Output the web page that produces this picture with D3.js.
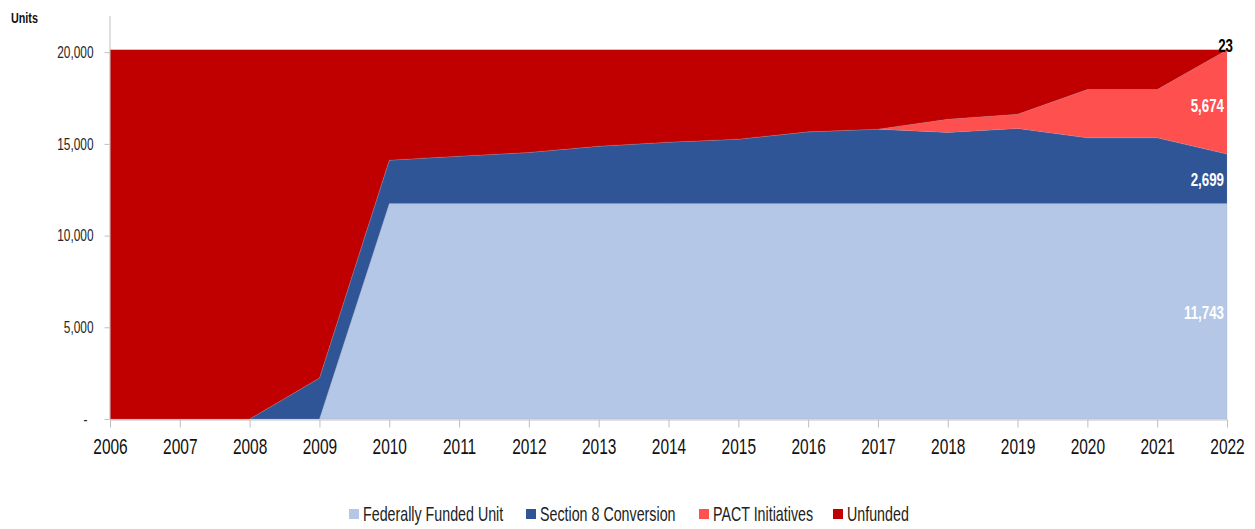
<!DOCTYPE html>
<html>
<head>
<meta charset="utf-8">
<script src="https://cdn.jsdelivr.net/npm/d3@7"></script>
<style>
  html, body { margin: 0; padding: 0; background: #fff; }
  svg text { font-family: "Liberation Sans", Arial, sans-serif; }
</style>
</head>
<body>
<svg id="chart" width="1255" height="529"></svg>
<script>
// ---- data ----
const years = [2006, 2007, 2008, 2009, 2010, 2011, 2012, 2013, 2014, 2015, 2016, 2017, 2018, 2019, 2020, 2021, 2022];
const federallyFunded = [0, 0, 0, 0, 11743, 11743, 11743, 11743, 11743, 11743, 11743, 11743, 11743, 11743, 11743, 11743, 11743];
const section8 = [0, 0, 0, 2234, 2371, 2589, 2791, 3134, 3352, 3516, 3914, 4061, 3881, 4099, 3587, 3587, 2699];
const pact = [0, 0, 0, 0, 0, 0, 0, 0, 0, 0, 0, 0, 725, 779, 2637, 2637, 5674];
const unfunded = [20139, 20139, 20139, 17905, 6025, 5807, 5605, 5262, 5044, 4880, 4482, 4335, 3790, 3518, 2172, 2172, 23];
const seriesNames = ["Federally Funded Unit", "Section 8 Conversion", "PACT Initiatives", "Unfunded"];
const yTicks = [0, 5000, 10000, 15000, 20000];

// ---- styles ----
const colors = ["#B4C7E7", "#2F5597", "#FF5050", "#C00000"];
const keys = ["ffu", "s8", "pact", "unf"];
const SX = 0.72; // horizontal squeeze to mimic the tall, narrow lettering

const rows = years.map((yr, i) => ({
  year: yr, ffu: federallyFunded[i], s8: section8[i], pact: pact[i], unf: unfunded[i]
}));

const svg = d3.select("#chart");
const x = d3.scaleLinear().domain([2006, 2022]).range([110, 1227]);
const y = d3.scaleLinear().domain([0, 22000]).range([419, 15.5]);

const stacked = d3.stack().keys(keys)(rows);
const area = d3.area()
  .x(d => x(d.data.year))
  .y0(d => y(d[0]))
  .y1(d => y(d[1]));

svg.append("g").selectAll("path")
  .data(stacked)
  .join("path")
  .attr("d", area)
  .attr("fill", (d, i) => colors[i])
  .attr("stroke", "#9a9aa8")
  .attr("stroke-opacity", 0.35)
  .attr("stroke-width", 0.6);

function label(px, py, txt, size, opts = {}) {
  return svg.append("text")
    .attr("transform", `translate(${px},${py}) scale(${SX},1)`)
    .attr("dy", "0.35em")
    .attr("text-anchor", opts.anchor || "start")
    .attr("font-size", size)
    .attr("font-weight", opts.weight || "normal")
    .attr("fill", opts.fill || "#222")
    .text(txt);
}

// y axis
const yAxis = svg.append("g")
  .attr("transform", "translate(109.5,0)")
  .call(d3.axisLeft(y).tickValues(yTicks).tickSize(5).tickSizeOuter(0).tickPadding(11)
    .tickFormat(d => d === 0 ? "-" : d3.format(",")(d)));
yAxis.select(".domain").attr("stroke", "#BFBFBF");
yAxis.selectAll(".tick line").attr("stroke", "#BFBFBF");
yAxis.selectAll(".tick text")
  .attr("font-size", 16.5).attr("fill", "#262626")
  .attr("x", d => (d === 0 ? -22 : -16) / SX)
  .attr("transform", `scale(${SX},1)`);

// x axis
const xAxis = svg.append("g")
  .attr("transform", "translate(0,419.5)")
  .call(d3.axisBottom(x).tickValues(years).tickSize(8).tickSizeOuter(0).tickPadding(11)
    .tickFormat(d3.format("d")));
xAxis.select(".domain").attr("stroke", "#BFBFBF");
xAxis.selectAll(".tick line").attr("stroke", "#BFBFBF");
xAxis.selectAll(".tick text")
  .attr("font-size", 21.5).attr("fill", "#111")
  .attr("transform", `scale(${SX},1)`);

// Units label
label(11, 18, "Units", 15, { weight: "bold", fill: "#111" });

// data labels at 2022
const last = stacked.map(s => s[s.length - 1]);
const lastVals = [federallyFunded, section8, pact, unfunded].map(a => a[a.length - 1]);
const labelColors = ["#fff", "#fff", "#fff", "#000"];
last.forEach((d, i) => {
  const mid = (d[0] + d[1]) / 2;
  const px = i === 3 ? x(2022) + 6 : x(2022) - 3;
  const py = i === 3 ? y(mid) - 4 : (i === 2 ? y(mid) + 3 : y(mid) + 1);
  label(px, py, d3.format(",")(lastVals[i]), 18.5, { anchor: "end", weight: "bold", fill: labelColors[i] });
});

// legend
const legendX = [349, 526, 699, 833];
seriesNames.forEach((name, i) => {
  svg.append("rect").attr("x", legendX[i]).attr("y", 509).attr("width", 10).attr("height", 10).attr("fill", colors[i]);
  label(legendX[i] + 14, 514, name, 19.8, { fill: "#222" });
});
</script>
</body>
</html>
